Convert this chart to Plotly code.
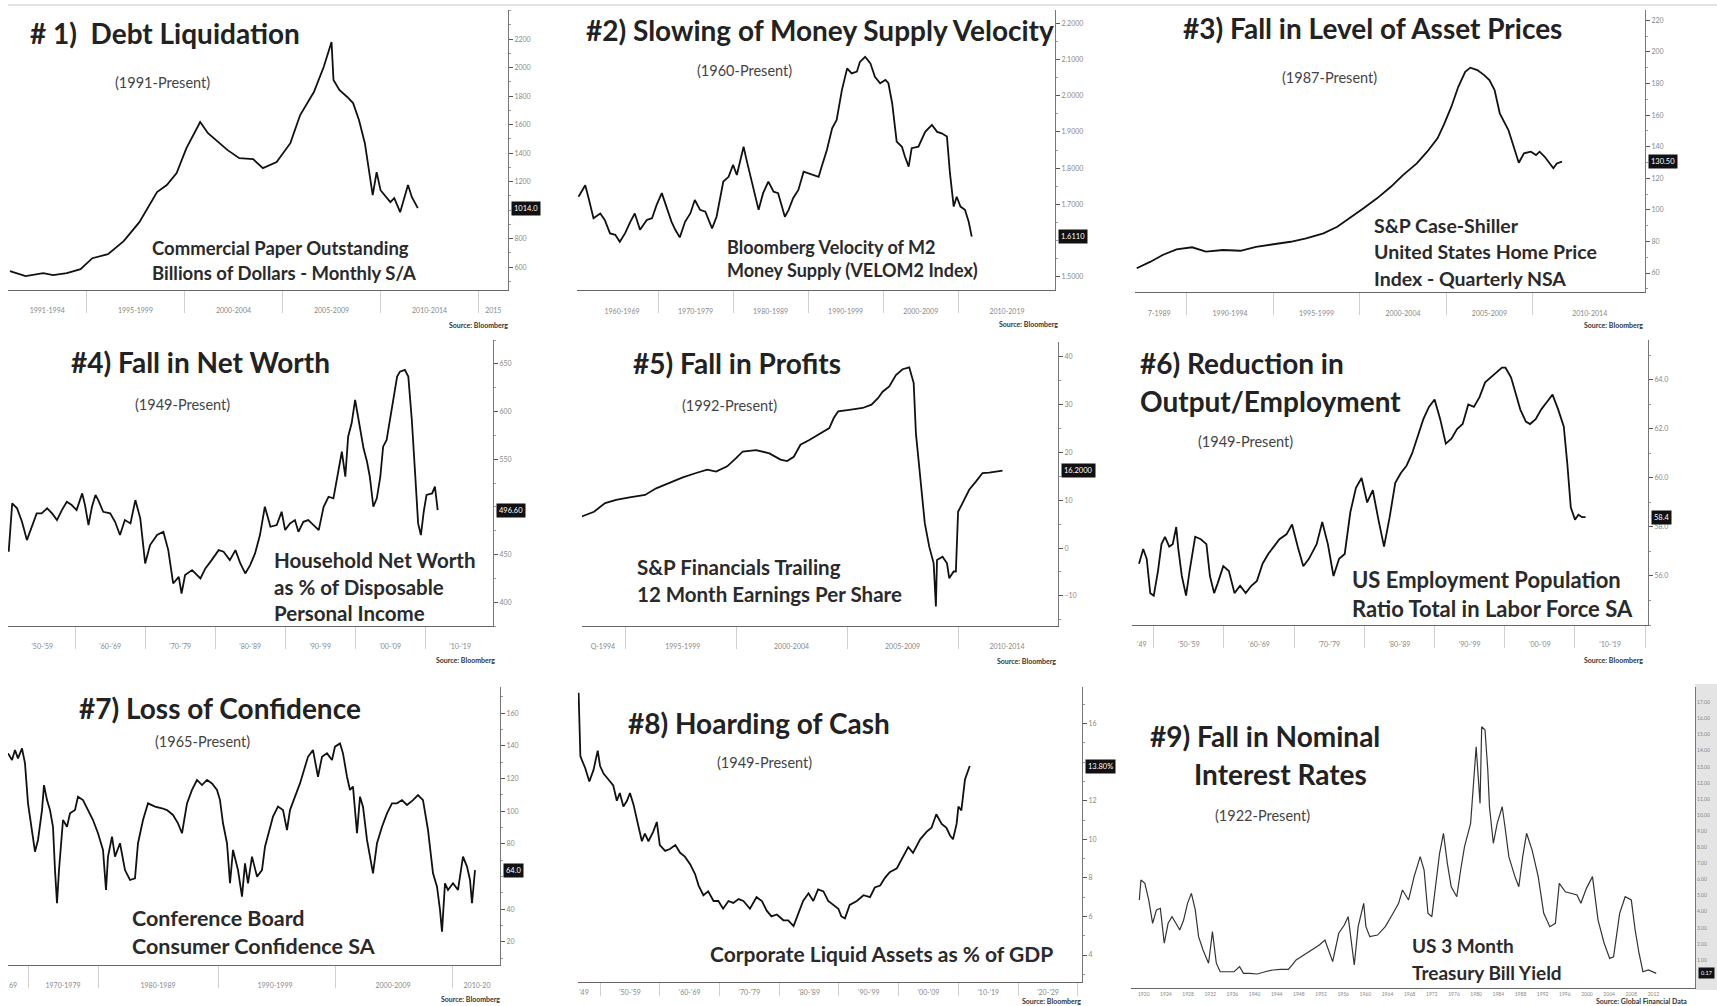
import plotly.graph_objects as go

W, H = 1717, 1006
FONT = "Lato"

# ---------------- data ----------------
# 1) Commercial paper outstanding, $bn
cp_year = [1991.1, 1991.9, 1992.8, 1993.3, 1994.0, 1994.7, 1995.3, 1996.1, 1996.9, 1997.7,
           1998.6, 1999.1, 1999.6, 2000.1, 2000.8, 2001.2, 2002.2, 2002.8, 2003.5, 2004.0,
           2004.7, 2005.4, 2005.9, 2006.6, 2007.1, 2007.5, 2007.6, 2007.9, 2008.3, 2008.6,
           2008.9, 2009.2, 2009.6, 2009.8, 2010.0, 2010.5, 2010.7, 2011.0, 2011.4, 2011.6, 2011.9]
cp_bn = [572, 537, 558, 544, 558, 586, 663, 691, 783, 916,
         1127, 1176, 1260, 1435, 1618, 1540, 1421, 1365, 1358, 1295,
         1337, 1470, 1667, 1829, 2004, 2180, 1913, 1843, 1794, 1751,
         1632, 1470, 1105, 1267, 1140, 1056, 1084, 986, 1176, 1091, 1014]

# 2) Velocity of M2
vel_year = [1959.4, 1960.3, 1960.7, 1961.4, 1962.3, 1962.9, 1963.6, 1964.3, 1964.9, 1965.6,
            1966.3, 1966.9, 1967.6, 1968.5, 1969.2, 1969.8, 1970.5, 1971.2, 1971.8, 1972.3,
            1972.9, 1973.6, 1974.3, 1974.9, 1975.6, 1976.3, 1977.2, 1977.8, 1978.7, 1979.4,
            1980.0, 1980.5, 1980.9, 1981.4, 1981.8, 1982.5, 1983.4, 1984.0, 1984.7, 1985.4,
            1986.0, 1986.9, 1987.4, 1988.0, 1988.7, 1989.4, 1990.0, 1990.7, 1991.4, 1991.8,
            1992.5, 1993.2, 1993.8, 1994.5, 1995.2, 1995.8, 1996.5, 1996.9, 1997.6, 1998.3,
            1998.9, 1999.6, 2000.3, 2000.7, 2001.2, 2001.8, 2002.5, 2002.9, 2003.4, 2003.8,
            2004.7, 2005.6, 2006.5, 2007.2, 2007.8, 2008.5, 2008.9, 2009.4, 2009.8, 2010.3,
            2010.9, 2011.4, 2011.8]
vel_m2 = [1.721, 1.753, 1.721, 1.662, 1.675, 1.657, 1.620, 1.616, 1.597, 1.620,
          1.652, 1.675, 1.630, 1.657, 1.662, 1.698, 1.731, 1.685, 1.652, 1.630,
          1.609, 1.652, 1.675, 1.712, 1.685, 1.680, 1.634, 1.666, 1.763, 1.776,
          1.809, 1.781, 1.813, 1.859, 1.822, 1.763, 1.685, 1.731, 1.763, 1.735,
          1.731, 1.666, 1.685, 1.717, 1.740, 1.790, 1.786, 1.781, 1.776, 1.804,
          1.850, 1.910, 1.933, 2.015, 2.075, 2.061, 2.066, 2.093, 2.107, 2.089,
          2.052, 2.034, 2.043, 2.034, 1.979, 1.873, 1.859, 1.832, 1.804, 1.855,
          1.859, 1.900, 1.919, 1.900, 1.896, 1.887, 1.786, 1.694, 1.721, 1.694,
          1.685, 1.652, 1.611]

# 3) Case-Shiller US home price index
hpi_year = [1987.1, 1987.9, 1988.6, 1989.4, 1990.3, 1991.1, 1992.1, 1993.1, 1994.0, 1995.0,
            1996.0, 1996.9, 1997.9, 1998.7, 1999.4, 2000.2, 2001.0, 2001.8, 2002.5, 2003.3,
            2003.9, 2004.5, 2004.9, 2005.3, 2005.7, 2006.1, 2006.4, 2006.8, 2007.2, 2007.5,
            2007.8, 2008.1, 2008.6, 2008.9, 2009.2, 2009.5, 2009.9, 2010.2, 2010.4, 2010.7,
            2011.0, 2011.2, 2011.4, 2011.7]
hpi = [63.0, 67.2, 71.4, 75.0, 76.3, 73.5, 74.6, 74.1, 76.6, 78.2,
       79.8, 82.0, 85.1, 89.3, 94.6, 100.9, 107.3, 114.6, 122.0, 129.4,
       136.8, 145.3, 154.8, 165.3, 177.9, 187.4, 190.0, 188.5, 185.3, 182.2,
       175.8, 161.1, 150.5, 140.0, 129.8, 135.8, 136.8, 134.7, 136.8, 133.6,
       129.4, 126.3, 129.4, 130.5]

# 4) Household net worth, % of disposable personal income
nw_year = [1950.5, 1951.0, 1951.7, 1952.4, 1953.1, 1953.8, 1954.5, 1955.2, 1956.0, 1956.7,
           1957.4, 1958.1, 1958.8, 1959.5, 1960.2, 1961.0, 1961.4, 1961.9, 1962.4, 1962.9,
           1963.3, 1964.0, 1965.0, 1965.7, 1966.4, 1967.1, 1967.9, 1968.6, 1969.3, 1970.0,
           1970.7, 1971.7, 1972.6, 1973.3, 1974.0, 1974.8, 1975.2, 1975.7, 1976.7, 1977.9,
           1978.6, 1979.5, 1980.5, 1981.2, 1982.1, 1982.9, 1983.6, 1984.3, 1985.0, 1985.7,
           1986.4, 1987.1, 1987.9, 1988.8, 1989.5, 1990.0, 1990.7, 1991.4, 1991.9, 1992.6,
           1993.3, 1993.8, 1994.8, 1995.5, 1996.2, 1996.9, 1997.6, 1998.1, 1998.6, 1999.0,
           1999.5, 2000.0, 2000.5, 2001.2, 2001.7, 2002.1, 2002.6, 2003.1, 2003.6, 2004.0,
           2004.5, 2005.0, 2005.5, 2006.0, 2006.4, 2007.1, 2007.6, 2008.1, 2008.6, 2009.0,
           2009.4, 2009.8, 2010.2, 2011.0, 2011.4, 2011.8]
nw_pct = [452.9, 503.6, 498.4, 484.3, 465.1, 479.1, 493.1, 493.1, 498.4, 493.1,
          486.1, 496.6, 505.3, 501.9, 496.6, 514.1, 501.9, 480.9, 500.1, 512.4,
          507.1, 494.8, 493.1, 484.3, 470.4, 486.1, 482.6, 507.1, 487.9, 440.6,
          459.9, 470.4, 473.8, 454.6, 419.6, 426.6, 409.1, 428.4, 433.6, 424.9,
          435.4, 444.1, 454.6, 452.9, 444.1, 454.6, 440.6, 430.1, 438.9, 451.1,
          470.4, 500.1, 479.1, 480.9, 494.8, 475.6, 482.6, 486.1, 473.8, 484.3,
          486.1, 482.6, 475.6, 500.1, 510.6, 508.9, 536.8, 557.8, 531.6, 573.6,
          587.6, 612.1, 591.1, 561.4, 547.3, 531.6, 500.1, 508.9, 531.6, 563.1,
          570.1, 591.1, 615.6, 636.6, 641.8, 643.6, 636.6, 591.1, 531.6, 482.6,
          470.4, 494.8, 512.4, 514.1, 521.1, 496.6]

# 5) S&P Financials trailing 12m EPS
eps_year = [1993.05, 1993.6, 1994.1, 1994.6, 1995.2, 1995.9, 1996.4, 1997.0, 1997.6, 1998.2,
            1998.7, 1999.1, 1999.6, 2000.0, 2000.3, 2000.9, 2001.5, 2002.0, 2002.3, 2002.6,
            2002.9, 2003.3, 2003.8, 2004.2, 2004.4, 2004.6, 2005.1, 2005.7, 2006.1, 2006.4,
            2006.6, 2006.9, 2007.2, 2007.5, 2007.8, 2008.0, 2008.1, 2008.3, 2008.5, 2008.7,
            2008.9, 2009.0, 2009.05, 2009.3, 2009.5, 2009.6, 2009.8, 2009.9, 2010.0, 2010.2,
            2010.5, 2010.8, 2011.1, 2011.4, 2011.7, 2012.0]
eps = [6.6, 7.6, 9.4, 10.1, 10.6, 11.1, 12.5, 13.7, 14.8, 15.7,
       16.4, 16.0, 17.1, 18.8, 20.2, 20.5, 19.8, 18.5, 18.2, 19.1,
       21.6, 22.6, 24.0, 25.1, 27.2, 28.6, 28.9, 29.3, 30.0, 31.4,
       32.7, 33.8, 36.2, 37.4, 37.8, 34.5, 24.0, 14.3, 5.2, 0.3,
       -3.2, -12.2, -2.5, -1.8, -3.2, -6.3, -4.9, -4.9, 7.6, 9.4,
       12.2, 13.9, 15.7, 15.8, 16.0, 16.2]

# 6) Employment-population ratio
emp_year = [1947.9, 1948.5, 1949.0, 1949.5, 1950.0, 1950.6, 1951.1, 1951.6, 1952.2, 1952.7,
            1953.2, 1953.5, 1954.0, 1954.6, 1955.1, 1955.9, 1956.7, 1957.5, 1958.0, 1958.6,
            1959.1, 1959.9, 1960.7, 1961.5, 1962.3, 1963.1, 1963.9, 1964.7, 1965.5, 1966.3,
            1967.1, 1967.9, 1968.9, 1969.7, 1970.5, 1971.3, 1972.1, 1973.2, 1974.0, 1974.8,
            1975.6, 1976.4, 1977.2, 1978.0, 1978.8, 1979.6, 1980.4, 1981.2, 1982.0, 1982.8,
            1983.6, 1984.4, 1985.2, 1986.0, 1986.8, 1987.6, 1988.4, 1989.2, 1990.0, 1990.8,
            1991.6, 1992.4, 1993.2, 1994.0, 1994.8, 1995.6, 1996.4, 1997.2, 1998.0, 1998.8,
            1999.6, 2000.1, 2000.9, 2001.7, 2002.2, 2003.0, 2003.6, 2004.4, 2005.2, 2006.0,
            2006.8, 2007.6, 2008.4, 2008.9, 2009.4, 2010.0, 2010.5, 2011.0, 2011.5]
emp_ratio = [56.5, 57.1, 56.7, 55.3, 55.2, 56.2, 57.3, 57.6, 57.2, 57.3,
             58.0, 57.1, 56.0, 55.2, 56.2, 57.6, 57.5, 57.3, 56.0, 55.3,
             55.7, 56.4, 56.2, 55.3, 55.6, 55.3, 55.6, 55.8, 56.5, 56.9,
             57.2, 57.5, 57.7, 58.1, 57.2, 56.4, 56.7, 57.3, 58.2, 57.3,
             56.0, 56.7, 56.9, 58.6, 59.6, 60.0, 59.0, 59.5, 58.3, 57.2,
             58.4, 59.8, 60.2, 60.5, 61.0, 61.7, 62.4, 62.9, 63.2, 62.4,
             61.4, 61.6, 62.0, 62.2, 63.0, 62.9, 63.3, 63.9, 64.1, 64.3,
             64.5, 64.5, 64.1, 63.3, 62.8, 62.3, 62.2, 62.4, 62.8, 63.1,
             63.4, 62.8, 62.1, 60.6, 58.8, 58.3, 58.5, 58.4, 58.4]

# 7) Conference Board consumer confidence (Bloomberg plots by observation number)
conf_obs = [0, 4, 7, 10, 14, 17, 20, 24, 27, 30,
            34, 36, 39, 42, 45, 47, 49, 51, 53, 55,
            59, 62, 67, 70, 75, 80, 85, 90, 95, 98,
            100, 104, 107, 112, 117, 122, 127, 130, 135, 140,
            147, 154, 159, 165, 170, 174, 179, 184, 189, 194,
            199, 204, 209, 212, 215, 219, 222, 225, 230, 234,
            237, 240, 244, 249, 254, 257, 262, 265, 270, 275,
            279, 282, 287, 292, 297, 300, 305, 310, 314, 319,
            324, 327, 332, 335, 339, 342, 345, 349, 352, 355,
            359, 362, 365, 369, 374, 379, 384, 389, 394, 399,
            405, 410, 415, 420, 425, 429, 432, 434, 437, 440,
            445, 450, 455, 459, 462, 464, 467]
conf_idx = [135.4, 131.3, 137.4, 132.3, 138.4, 129.3, 104.8, 88.5, 75.2, 82.4,
            100.7, 116.0, 106.8, 100.7, 90.5, 64.0, 43.7, 64.0, 78.3, 94.6,
            90.5, 98.7, 100.7, 108.9, 106.8, 100.7, 94.6, 86.5, 76.3, 51.8,
            72.2, 84.4, 72.2, 80.4, 64.0, 57.9, 58.9, 80.4, 94.6, 104.8,
            102.8, 101.8, 100.7, 97.7, 92.6, 86.5, 104.8, 113.0, 119.1, 116.0,
            119.1, 117.0, 113.0, 106.8, 92.6, 80.4, 55.9, 76.3, 64.0, 47.7,
            68.1, 55.9, 72.2, 60.0, 64.0, 78.3, 90.5, 96.7, 102.8, 100.7,
            88.5, 100.7, 108.9, 117.0, 127.2, 133.3, 137.4, 121.1, 133.3, 135.4,
            131.3, 139.5, 141.5, 135.4, 121.1, 113.0, 115.0, 86.5, 108.9, 102.8,
            82.4, 72.2, 62.0, 80.4, 90.5, 98.7, 104.8, 104.8, 106.8, 103.8,
            106.8, 109.9, 106.8, 88.5, 62.0, 53.8, 39.6, 26.3, 55.9, 51.8,
            55.9, 51.8, 72.2, 66.1, 57.9, 43.7, 64.0]

# 8) Corporate liquid assets, % of GDP
cash_year = [1946.4, 1946.7, 1947.5, 1948.2, 1948.9, 1949.6, 1950.0, 1950.6, 1951.4, 1952.2,
             1952.8, 1953.3, 1953.9, 1954.5, 1955.0, 1955.6, 1956.4, 1957.0, 1957.5, 1958.1,
             1958.9, 1959.5, 1960.0, 1960.9, 1961.7, 1962.6, 1963.4, 1964.2, 1965.1, 1965.9,
             1966.5, 1967.3, 1968.1, 1969.0, 1969.8, 1970.6, 1971.5, 1972.3, 1973.2, 1974.0,
             1975.1, 1976.2, 1977.1, 1977.9, 1978.7, 1979.6, 1980.7, 1981.5, 1982.4, 1982.9,
             1983.5, 1984.0, 1984.9, 1985.7, 1986.5, 1987.4, 1988.2, 1989.1, 1989.9, 1990.4,
             1991.0, 1991.8, 1993.0, 1994.1, 1995.2, 1996.0, 1996.9, 1997.7, 1998.5, 1999.7,
             2000.8, 2001.6, 2002.4, 2003.6, 2004.7, 2005.5, 2006.3, 2007.2, 2008.0, 2008.6,
             2009.1, 2009.7, 2010.0, 2010.5, 2011.1, 2011.9]
cash_pct = [17.6, 14.3, 13.7, 13.0, 13.6, 14.6, 13.8, 13.4, 13.1, 12.8,
            12.0, 12.4, 11.7, 12.0, 12.4, 11.8, 10.7, 9.9, 10.3, 9.9,
            10.4, 10.9, 9.7, 9.4, 9.5, 9.7, 9.3, 9.1, 8.7, 8.2,
            7.6, 7.1, 7.3, 6.8, 6.8, 6.4, 6.8, 6.7, 6.9, 6.8,
            6.4, 7.0, 6.8, 6.3, 6.0, 6.1, 5.8, 5.8, 5.5, 5.9,
            6.3, 6.8, 7.2, 6.8, 7.4, 7.3, 6.8, 6.6, 6.4, 6.0,
            5.9, 6.6, 6.8, 7.1, 7.0, 7.5, 7.6, 8.0, 8.3, 8.5,
            9.1, 9.6, 9.3, 10.0, 10.4, 10.6, 11.3, 10.8, 10.6, 10.2,
            10.0, 10.8, 11.7, 11.5, 13.1, 13.8]

# 9) US 3-month Treasury bill yield
tb_year = [1919.2, 1919.5, 1920.2, 1920.9, 1921.6, 1922.3, 1923.0, 1923.7, 1924.4, 1925.1,
           1925.8, 1926.5, 1927.2, 1927.9, 1928.6, 1929.3, 1929.9, 1930.7, 1931.7, 1932.4,
           1933.1, 1933.8, 1934.9, 1936.3, 1937.3, 1938.0, 1939.1, 1940.5, 1941.9, 1943.3,
           1944.7, 1946.1, 1946.8, 1947.5, 1948.9, 1950.3, 1951.7, 1952.7, 1953.4, 1954.1,
           1955.2, 1956.2, 1956.9, 1957.6, 1958.0, 1958.7, 1959.7, 1960.1, 1960.8, 1962.2,
           1963.6, 1965.0, 1966.0, 1966.7, 1967.8, 1968.8, 1969.9, 1970.6, 1971.3, 1972.0,
           1972.7, 1973.4, 1974.1, 1974.8, 1975.5, 1976.5, 1977.2, 1977.9, 1979.0, 1979.7,
           1980.0, 1980.7, 1981.0, 1981.6, 1982.1, 1982.4, 1983.1, 1983.8, 1984.7, 1985.2,
           1985.9, 1987.0, 1987.7, 1988.4, 1989.1, 1990.1, 1991.2, 1992.2, 1993.3, 1994.3,
           1995.0, 1996.1, 1997.1, 1998.2, 1998.9, 1999.9, 2001.0, 2002.0, 2003.1, 2004.1,
           2004.8, 2005.9, 2006.9, 2008.0, 2008.7, 2009.4, 2010.1, 2011.1, 2012.5]
tb_yield = [4.73, 5.97, 5.76, 4.73, 3.28, 4.11, 4.21, 2.04, 3.28, 3.69,
            3.28, 2.86, 3.48, 4.52, 5.14, 4.11, 2.45, 1.62, 0.80, 2.76,
            0.80, 0.27, 0.27, 0.27, 0.59, 0.17, 0.17, 0.13, 0.27, 0.38,
            0.42, 0.42, 0.69, 1.00, 1.31, 1.62, 1.93, 2.24, 1.62, 0.90,
            2.66, 3.17, 3.69, 1.83, 0.69, 3.07, 4.52, 3.07, 2.45, 2.55,
            3.07, 3.90, 4.52, 5.35, 4.73, 6.18, 7.42, 6.59, 3.90, 3.69,
            5.76, 7.63, 8.87, 7.00, 5.55, 4.93, 6.59, 8.04, 9.49, 13.22,
            14.25, 10.73, 15.49, 15.29, 12.80, 10.52, 8.25, 9.49, 10.52, 9.28,
            7.42, 6.18, 5.55, 7.42, 8.87, 7.83, 6.18, 3.90, 3.07, 3.28,
            5.76, 5.24, 5.14, 5.04, 4.52, 5.45, 6.18, 3.48, 2.04, 1.10,
            1.20, 3.90, 4.93, 4.73, 2.86, 1.42, 0.27, 0.38, 0.17]

# axis tick labels
p1_xlabels = ["1991-1994", "1995-1999", "2000-2004", "2005-2009", "2010-2014", "2015"]
p2_xlabels = ["1960-1969", "1970-1979", "1980-1989", "1990-1999", "2000-2009", "2010-2019"]
p3_xlabels = ["7-1989", "1990-1994", "1995-1999", "2000-2004", "2005-2009", "2010-2014"]
decade_labels = ["'50-'59", "'60-'69", "'70-'79", "'80-'89", "'90-'99", "'00-'09", "'10-'19"]
p5_xlabels = ["Q-1994", "1995-1999", "2000-2004", "2005-2009", "2010-2014"]
p7_xlabels = ["69", "1970-1979", "1980-1989", "1990-1999", "2000-2009", "2010-20"]
p9_xlabels = [str(y) for y in range(1920, 2013, 4)]


def px_x(x):
    return x / W


def px_y(y):
    return 1 - y / H


# box = (left, top, right, bottom) in pixels; std = x tick label standoff
panels = [
    dict(x=cp_year, y=cp_bn, box=(8, 10, 508, 290), xr=[1991, 2016.5], yr=[440, 2404],
         xt=[1993, 1997.5, 2002.5, 2007.5, 2012.5, 2015.75], xl=p1_xlabels,
         seps=[1995, 2000, 2005, 2010, 2015], std=14, sepl=22,
         yt=[600, 800, 1200, 1400, 1600, 1800, 2000, 2200], ydm=100, yfmt="d", tag="{:.1f}"),
    dict(x=vel_year, y=vel_m2, box=(577, 10, 1055, 290), xr=[1959.2, 2022.9], yr=[1.464, 2.236],
         xt=[1965.2, 1975, 1985, 1995, 2005, 2016.5], xl=p2_xlabels,
         seps=[1970, 1980, 1990, 2000, 2010], std=15, sepl=22,
         yt=[1.5, 1.7, 1.8, 1.9, 2.0, 2.1, 2.2], ydm=0.05, yfmt=".4f", tag="{:.4f}"),
    dict(x=hpi_year, y=hpi, box=(1135, 10, 1645, 292), xr=[1987.0, 2016.5], yr=[48, 226.5],
         xt=[1988.4, 1992.5, 1997.5, 2002.5, 2007.5, 2013.3], xl=p3_xlabels,
         seps=[1990, 1995, 2000, 2005, 2010], std=15, sepl=22,
         yt=[60, 80, 100, 120, 140, 160, 180, 200, 220], ydm=10, yfmt="d", tag="{:.2f}"),
    dict(x=nw_year, y=nw_pct, box=(8, 340, 493, 626), xr=[1950.4, 2019.7], yr=[375, 675],
         xt=[1955.3, 1965, 1975, 1985, 1995, 2005, 2015], xl=decade_labels,
         seps=[1960, 1970, 1980, 1990, 2000, 2010], std=14, sepl=22,
         yt=[400, 450, 550, 600, 650], ydm=25, yfmt="d", tag="{:.2f}"),
    dict(x=eps_year, y=eps, box=(582, 342, 1058, 626), xr=[1993.06, 2014.5], yr=[-16.3, 43.1],
         xt=[1994.0, 1997.6, 2002.5, 2007.5, 2012.2], xl=p5_xlabels,
         seps=[1995, 2000, 2005, 2010], std=14, sepl=22,
         yt=[-10, 0, 10, 20, 30, 40], ydm=5, yfmt="d", tag="{:.4f}"),
    dict(x=emp_year, y=emp_ratio, box=(1132, 340, 1648, 625), xr=[1946.9, 2020.4], yr=[54.0, 65.63],
         xt=[1948.3, 1955, 1965, 1975, 1985, 1995, 2005, 2015], xl=["'49"] + decade_labels,
         seps=[1950, 1960, 1970, 1980, 1990, 2000, 2010, 2020], std=13, sepl=22,
         yt=[56, 58, 60, 62, 64], ydm=1, yfmt=".1f", tag="{:.1f}"),
    dict(x=conf_obs, y=conf_idx, box=(8, 687, 500, 965), xr=[0, 492], yr=[5.9, 176],
         xt=[5, 55, 150, 267, 385, 469], xl=p7_xlabels,
         seps=[20, 90, 210, 327, 444], std=14, sepl=22,
         yt=[20, 40, 80, 100, 120, 140, 160], ydm=10, yfmt="d", tag="{:.1f}"),
    dict(x=cash_year, y=cash_pct, box=(578, 687, 1082, 982), xr=[1946.3, 2030.7], yr=[2.6, 17.9],
         xt=[1947.3, 1955, 1965, 1975, 1985, 1995, 2005, 2015, 2025], xl=["'49"] + decade_labels + ["'20-'29"],
         seps=[1950, 1960, 1970, 1980, 1990, 2000, 2010, 2020, 2030], std=4, sepl=13,
         yt=[4, 6, 8, 10, 12, 16], ydm=1, yfmt="d", ysuf="%", tag="{:.2f}%"),
    dict(x=tb_year, y=tb_yield, box=(1131, 687, 1695, 988), xr=[1917.7, 2019.5], yr=[-0.74, 17.96],
         xt=list(range(1920, 2013, 4)), xl=p9_xlabels, seps=[], std=1, sepl=0,
         yt=list(range(1, 18)), ydm=None, yfmt=".2f", tag="{:.2f}", color="#333", width=1.2),
]

titles = [
    ("<b># 1)  Debt Liquidation</b>", 28, 33),
    ("<b>#2) Slowing of Money Supply Velocity</b>", 584, 30),
    ("<b>#3) Fall in Level of Asset Prices</b>", 1181, 28),
    ("<b>#4) Fall in Net Worth</b>", 69, 362),
    ("<b>#5) Fall in Profits</b>", 631, 363),
    ("<b>#6) Reduction in</b>", 1138, 363),
    ("<b>Output/Employment</b>", 1138, 401),
    ("<b>#7) Loss of Confidence</b>", 77, 708),
    ("<b>#8) Hoarding of Cash</b>", 626, 723),
    ("<b>#9) Fall in Nominal</b>", 1148, 736),
    ("<b>Interest Rates</b>", 1192, 774),
]
periods = [
    ("(1991-Present)", 113, 82), ("(1960-Present)", 695, 71), ("(1987-Present)", 1280, 78),
    ("(1949-Present)", 133, 404), ("(1992-Present)", 680, 405), ("(1949-Present)", 1196, 442),
    ("(1965-Present)", 153, 741), ("(1949-Present)", 715, 762), ("(1922-Present)", 1213, 815),
]
notes = [
    ("Commercial Paper Outstanding", 150, 248, 18.5), ("Billions of Dollars - Monthly S/A", 150, 273, 18.5),
    ("Bloomberg Velocity of M2", 725, 247, 18), ("Money Supply (VELOM2 Index)", 725, 270, 18),
    ("S&amp;P Case-Shiller", 1372, 225, 19.5), ("United States Home Price", 1372, 252, 19.5),
    ("Index - Quarterly NSA", 1372, 278, 19.5),
    ("Household Net Worth", 272, 560, 20.5), ("as % of Disposable", 272, 587, 20.5),
    ("Personal Income", 272, 613, 20.5),
    ("S&amp;P Financials Trailing", 635, 567, 20.5), ("12 Month Earnings Per Share", 635, 594, 20.5),
    ("US Employment Population", 1350, 579, 22), ("Ratio Total in Labor Force SA", 1350, 608, 22),
    ("Conference Board", 130, 918, 21.5), ("Consumer Confidence SA", 130, 946, 21.5),
    ("Corporate Liquid Assets as % of GDP", 708, 953, 21),
    ("US 3 Month", 1410, 945, 19), ("Treasury Bill Yield", 1410, 972, 19),
]
sources = [
    ("Source: Bloomberg", 510, 325), ("Source: Bloomberg", 1060, 324), ("Source: Bloomberg", 1645, 325),
    ("Source: Bloomberg", 497, 660), ("Source: Bloomberg", 1058, 661), ("Source: Bloomberg", 1645, 660),
    ("Source: Bloomberg", 502, 999), ("Source: Bloomberg", 1083, 1001),
    ("Source: Global Financial Data", 1689, 1001),
]

fig = go.Figure()
annotations = []
layout = {}

for i, p in enumerate(panels, start=1):
    sfx = "" if i == 1 else str(i)
    left, top, right, bottom = p["box"]
    fig.add_trace(go.Scatter(x=p["x"], y=p["y"], mode="lines",
                             line=dict(color=p.get("color", "#111"), width=p.get("width", 1.8)),
                             xaxis="x" + sfx, yaxis="y" + sfx, showlegend=False, hoverinfo="skip"))
    small = 5 if i == 9 else 7
    xa = dict(domain=[px_x(left), px_x(right)], range=p["xr"], anchor="y" + sfx,
              showline=True, linecolor="#666", linewidth=1, showgrid=False, zeroline=False,
              tickmode="array", tickvals=p["xt"], ticktext=p["xl"],
              tickfont=dict(family=FONT, size=small, color="#888"),
              ticks="", ticklabelstandoff=p["std"])
    if p["seps"]:
        xa["minor"] = dict(tickmode="array", tickvals=p["seps"], ticks="outside",
                           ticklen=p["sepl"], tickcolor="#d0d0d0", tickwidth=1)
    ya = dict(domain=[px_y(bottom), px_y(top)], range=p["yr"], anchor="x" + sfx, side="right",
              showline=True, linecolor="#777", linewidth=1, showgrid=False, zeroline=False,
              tickmode="array", tickvals=p["yt"], tickformat=p["yfmt"], ticksuffix=p.get("ysuf", ""),
              ticks="outside" if i != 9 else "", ticklen=4, tickcolor="#555",
              tickfont=dict(family=FONT, size=small, color="#888"))
    if p["ydm"]:
        ya["minor"] = dict(tickmode="linear", tick0=p["yt"][0], dtick=p["ydm"],
                           ticks="outside", ticklen=2, tickcolor="#999")
    layout["xaxis" + sfx] = xa
    layout["yaxis" + sfx] = ya

    # last-value tag on the right axis
    annotations.append(dict(xref=f"x{sfx} domain", yref="y" + sfx, x=1, y=p["y"][-1],
                            xanchor="left", yanchor="middle", xshift=3, showarrow=False,
                            text=p["tag"].format(p["y"][-1]), bgcolor="#111", borderpad=2,
                            font=dict(family=FONT, size=7.5 if i != 9 else 5.5, color="white")))

for text, x, y in titles:
    annotations.append(dict(xref="paper", yref="paper", x=px_x(x), y=px_y(y), text=text,
                            xanchor="left", yanchor="middle", showarrow=False,
                            font=dict(family=FONT, size=28, color="#222")))
for text, x, y in periods:
    annotations.append(dict(xref="paper", yref="paper", x=px_x(x), y=px_y(y), text=text,
                            xanchor="left", yanchor="middle", showarrow=False,
                            font=dict(family=FONT, size=14.5, color="#444")))
for text, x, y, size in notes:
    annotations.append(dict(xref="paper", yref="paper", x=px_x(x), y=px_y(y), text="<b>" + text + "</b>",
                            xanchor="left", yanchor="middle", showarrow=False,
                            font=dict(family=FONT, size=size, color="#2a2a2a")))
for text, x, y in sources:
    annotations.append(dict(xref="paper", yref="paper", x=px_x(x), y=px_y(y), text="<b>" + text + "</b>",
                            xanchor="right", yanchor="middle", showarrow=False,
                            font=dict(family=FONT, size=7, color="#333")))

shapes = [
    # thin rule along the top of the sheet
    dict(type="line", xref="paper", yref="paper", x0=px_x(8), x1=1, y0=px_y(5), y1=px_y(5),
         line=dict(color="#c8c8c8", width=1)),
    # grey label strip of the treasury-bill chart
    dict(type="rect", xref="paper", yref="paper", x0=px_x(1695), x1=1, y0=px_y(990), y1=px_y(684),
         fillcolor="#e4e4e4", line=dict(width=0), layer="below"),
]

fig.update_layout(**layout)
fig.update_layout(width=W, height=H, margin=dict(l=0, r=0, t=0, b=0),
                  paper_bgcolor="white", plot_bgcolor="white",
                  font=dict(family=FONT), annotations=annotations, shapes=shapes)

# drop the browser's default 8px page margin so the figure sits at the window origin
fig.write_html("out.html", config={"displayModeBar": False},
               post_script="document.body.style.margin='0';document.body.style.overflow='hidden';")
